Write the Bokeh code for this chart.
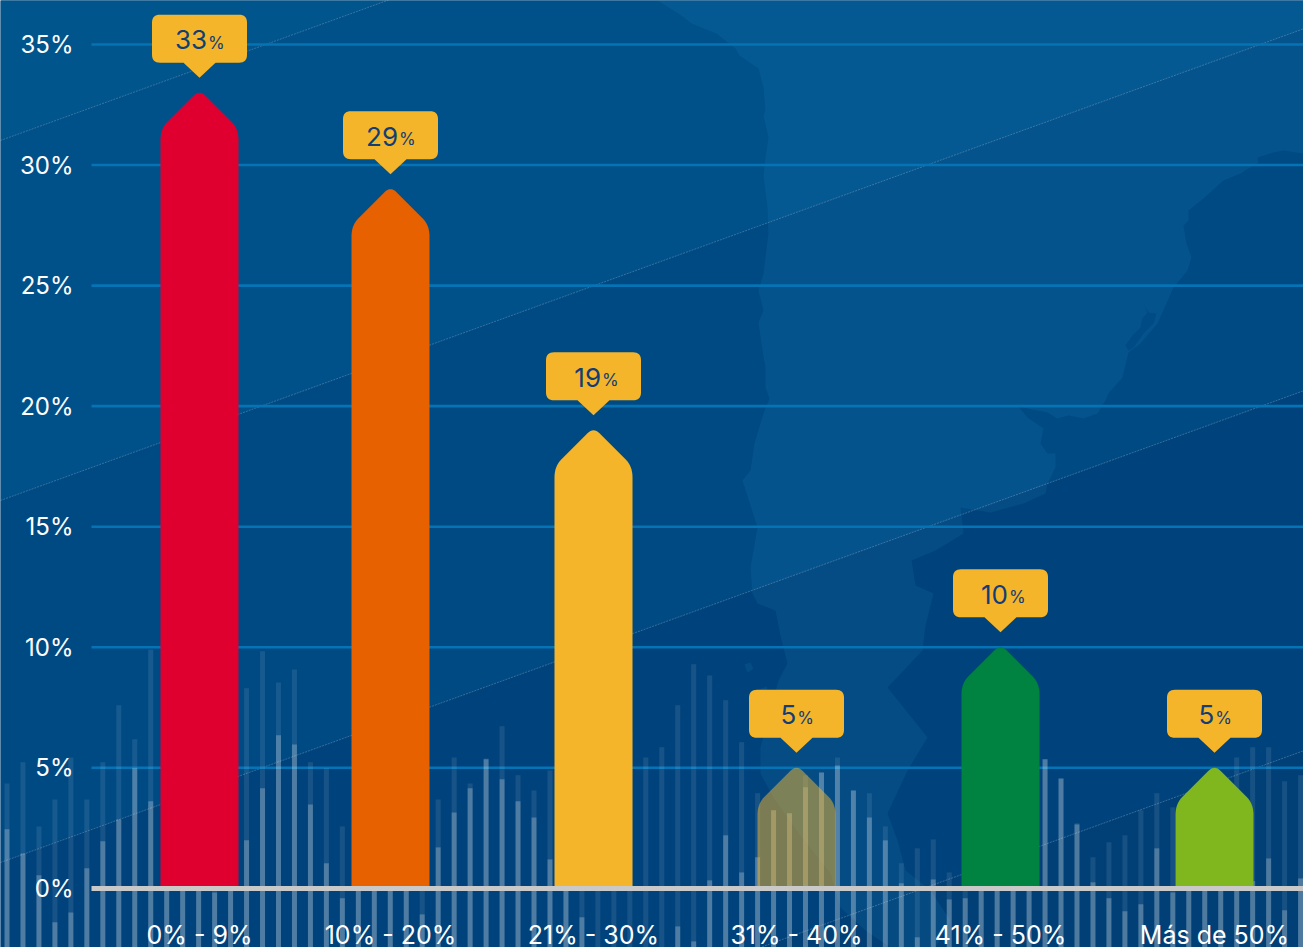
from bokeh.core.properties import value
from bokeh.embed import file_html
from bokeh.models import FixedTicker, LinearAxis, Range1d
from bokeh.plotting import figure
from bokeh.resources import INLINE

# Share of respondents per range
categories = ["0% - 9%", "10% - 20%", "21% - 30%", "31% - 40%", "41% - 50%", "Más de 50%"]
shares = [33, 29, 19, 5, 10, 5]
bar_colors = ["#df0030", "#e86100", "#f5b52a", "#f5b52a", "#008241", "#80b61e"]
bar_alphas = [1, 1, 1, 0.5, 1, 1]
bar_centers = [199, 390, 593, 796, 1000, 1214]

y_ticks = [0, 5, 10, 15, 20, 25, 30, 35]
y_tick_labels = ["0%", "5%", "10%", "15%", "20%", "25%", "30%", "35%"]

# Decorative stripes behind the chart
stripes_tall = [
    4.35, 5.23, 2.57, 3.69, 5.43, 3.69, 5.23, 7.59, 6.18, 9.91,
    7.5, 6.0, 8.0, 6.5, 7.0, 8.30, 9.83, 8.54, 9.08, 5.23,
    4.98, 2.57, 6.0, 7.5, 5.5, 8.0, 6.5, 3.69, 5.43, 4.35,
    5.39, 6.72, 4.69, 4.06, 4.89, 6.0, 7.0, 5.0, 8.0, 6.5,
    5.43, 5.85, 7.59, 9.29, 8.83, 7.80, 6.06, 3.94, 3.24, 3.11,
    4.69, 4.81, 5.43, 4.06, 3.94, 2.57, 1.04, 1.66, 2.03, 0.66,
    3.0, 5.0, 4.0, 6.0, 2.5, 5.35, 4.56, 2.70, 1.29, 1.91,
    2.20, 3.24, 3.94, 3.36, 3.0, 3.5, 4.69, 5.43, 5.85, 5.85,
    4.44, 4.69,
]
stripes_short = [
    2.45, 1.45, 0.54, -1.41, -1.00, 0.83, 1.95, 2.86, 4.98, 3.61,
    0.3, 0.3, 0.3, -0.17, 0.3, 1.99, 4.15, 6.35, 5.97, 3.48,
    1.04, -0.41, 0.3, 0.3, 0.3, 0.3, -1.08, 1.70, 3.15, 4.15,
    5.35, 4.52, 3.61, 2.94, 1.20, 0.3, -1.20, -3, -3, -3,
    -3, -3, -1.58, -2.20, 0.33, 2.20, 0.66, 1.29, 3.24, 3.11,
    4.19, 4.81, 5.10, 4.06, 2.94, 1.99, 0.21, -2.03, 0.37, -0.46,
    -0.41, 0.3, 0.3, 0.3, 0.3, 5.35, 4.56, 2.65, 0.25, -0.41,
    -0.95, -0.66, 1.66, -0.17, 0.3, 0.3, 0.3, 0.3, 0.3, 1.24,
    -0.91, 0.41,
]

WIDTH, HEIGHT = 1303, 947
ZERO_PX = 887.85
PX_PER_UNIT = 24.11


def val(py):
    """Vertical page position in pixels -> percent on the y scale."""
    return (ZERO_PX - py) / PX_PER_UNIT


p = figure(
    width=WIDTH, height=HEIGHT, output_backend="svg", toolbar_location=None,
    x_axis_type=None, y_axis_type=None,
    x_range=Range1d(0, WIDTH), y_range=Range1d(val(HEIGHT), val(0)),
    min_border=0, outline_line_color=None, background_fill_color="#00447c",
    border_fill_color=None,
)

# Diagonal bands of the backdrop, each a little darker than the one above
SLOPE = 0.362
band_edges = [-500, 140, 500, 862, 1222, 1800]
band_colors = ["#00558c", "#00518a", "#004a84", "#00437c", "#004077"]
band_xs, band_ys = [], []
for a, b in zip(band_edges[:-1], band_edges[1:]):
    band_xs.append([0, WIDTH, WIDTH, 0])
    band_ys.append([val(a), val(a - SLOPE * WIDTH), val(b - SLOPE * WIDTH), val(b)])
p.patches(band_xs, band_ys, fill_color=band_colors, line_color=None, level="image")

# Silhouette of the southern cone
land = [
    (657, 0), (678, 13), (691, 23), (716, 33), (735, 48), (739, 55), (758, 68), (763, 87),
    (765, 110), (763, 115), (768, 137), (765, 157), (763, 175), (767, 207), (768, 233),
    (763, 273), (758, 290), (763, 310), (758, 322), (762, 350), (765, 367), (765, 387),
    (769, 398), (763, 413), (754, 443), (750, 470), (742, 480), (750, 505), (757, 527),
    (750, 567), (752, 593), (757, 603), (775, 610), (780, 635), (787, 663), (778, 680),
    (770, 710), (760, 747), (760, 773), (773, 797), (800, 835), (830, 873), (840, 907),
    (865, 930), (890, 947), (935, 947), (950, 920), (930, 890), (905, 870), (897, 840),
    (887, 813), (907, 770), (927, 737), (903, 707), (887, 687), (922, 650), (925, 625),
    (933, 593), (915, 585), (911, 560), (935, 550), (963, 533), (960, 507), (990, 512),
    (1023, 503), (1045, 493), (1047, 483), (1055, 467), (1055, 453), (1047, 453),
    (1040, 443), (1043, 428), (1027, 417), (1017, 405), (1027, 408), (1047, 412),
    (1057, 418), (1068, 415), (1083, 418), (1097, 413), (1105, 400), (1108, 393),
    (1122, 377), (1128, 352), (1140, 343), (1157, 323), (1173, 287), (1187, 270),
    (1191, 257), (1186, 243), (1183, 225), (1188, 220), (1188, 210), (1203, 198),
    (1223, 180), (1240, 173), (1248, 168), (1258, 162), (1257, 157), (1273, 152),
    (1283, 150), (1303, 153), (1303, 0),
]
isles = [
    [(744, 664), (750, 662), (753, 668), (747, 672)],
    [(757, 690), (766, 686), (769, 698), (761, 702)],
    [(750, 714), (756, 712), (758, 724), (752, 727)],
]
p.patches(
    [[q[0] for q in s] for s in [land] + isles],
    [[val(q[1]) for q in s] for s in [land] + isles],
    fill_color="#2a90d0", fill_alpha=0.12, line_color=None, level="image",
)
lagoon = [(1143, 303), (1148, 312), (1156, 313), (1153, 323), (1143, 333), (1133, 347),
          (1128, 350), (1125, 345), (1132, 335), (1140, 327), (1142, 318), (1147, 312)]
p.patch([q[0] for q in lagoon], [val(q[1]) for q in lagoon],
        fill_color="#004a85", line_color=None, level="image")

# Thin diagonal rules along the band edges
for edge in band_edges[1:-1]:
    p.line([0, WIDTH], [val(edge), val(edge - SLOPE * WIDTH)], line_color="#ffffff",
           line_alpha=0.22, line_width=1, line_dash="2 1", level="image")

# Horizontal rules at each tick
GRID_LEFT = 91
p.segment([GRID_LEFT] * len(y_ticks[1:]), y_ticks[1:], [WIDTH] * len(y_ticks[1:]), y_ticks[1:],
          line_color="#0673b5", line_width=2.6, level="underlay")

# Background stripes, a faint tall layer and a brighter short one
stripe_x = [6.5 + i * 15.97 for i in range(len(stripes_tall))]
floor = val(HEIGHT + 5)
p.vbar(stripe_x, width=5, top=stripes_tall, bottom=floor, fill_color="#ffffff",
       fill_alpha=0.09, line_color=None)
p.vbar(stripe_x, width=5, top=stripes_short, bottom=floor, fill_color="#ffffff",
       fill_alpha=0.24, line_color=None)


def curve(p0, ctrl, p1, n=8):
    pts = []
    for k in range(n + 1):
        t = k / n
        pts.append(((1 - t) ** 2 * p0[0] + 2 * t * (1 - t) * ctrl[0] + t ** 2 * p1[0],
                    (1 - t) ** 2 * p0[1] + 2 * t * (1 - t) * ctrl[1] + t ** 2 * p1[1]))
    return pts


# House-shaped columns rising from the baseline to their value
HALF = 39
house_xs, house_ys = [], []
for c, v in zip(bar_centers, shares):
    t = ZERO_PX - v * PX_PER_UNIT
    pts = [(c - HALF, ZERO_PX)]
    pts += curve((c - HALF, t + 47), (c - HALF, t + 36), (c - 32, t + 29))
    pts += curve((c - 6, t + 3), (c, t - 3), (c + 6, t + 3))
    pts += curve((c + 32, t + 29), (c + HALF, t + 36), (c + HALF, t + 47))
    pts += [(c + HALF, ZERO_PX)]
    house_xs.append([q[0] for q in pts])
    house_ys.append([val(q[1]) for q in pts])
p.patches(house_xs, house_ys, fill_color=bar_colors, fill_alpha=bar_alphas, line_color=None)

# Value callouts floating above each column
GAP, TAIL, BOX_H, BOX_HALF, TAIL_HALF, R = 15, 15, 48, 47.5, 16, 8
call_xs, call_ys = [], []
for c, v in zip(bar_centers, shares):
    tip = ZERO_PX - v * PX_PER_UNIT - GAP
    b = tip - TAIL
    u = b - BOX_H
    l, r = c - BOX_HALF, c + BOX_HALF
    pts = [(c, tip), (c - TAIL_HALF, b)]
    pts += curve((l + R, b), (l, b), (l, b - R))
    pts += curve((l, u + R), (l, u), (l + R, u))
    pts += curve((r - R, u), (r, u), (r, u + R))
    pts += curve((r, b - R), (r, b), (r - R, b))
    pts += [(c + TAIL_HALF, b)]
    call_xs.append([q[0] for q in pts])
    call_ys.append([val(q[1]) for q in pts])
p.patches(call_xs, call_ys, fill_color="#f5b52a", line_color=None)

splits = [c + (15.5 * len(str(v)) - 16) / 2 for c, v in zip(bar_centers, shares)]
p.text(splits, shares, text=[str(v) for v in shares], text_font=value("Inter"),
       text_font_size="26px", text_color="#113e75", text_align="right",
       text_baseline="alphabetic", y_offset=-53)
p.text(splits, shares, text=["%"] * len(shares), text_font=value("Inter"),
       text_font_size="17px", text_color="#113e75", text_align="left",
       text_baseline="alphabetic", y_offset=-50, x_offset=1)

# Axes drawn inside the frame so the backdrop reaches the page edges
y_axis = LinearAxis(
    fixed_location=82, ticker=FixedTicker(ticks=y_ticks),
    major_label_overrides=dict(zip(y_ticks, y_tick_labels)),
    axis_line_color=None, major_tick_line_color=None, minor_tick_line_color=None,
    major_label_text_color="#ffffff", major_label_text_font="Inter",
    major_label_text_font_size="24px", major_label_standoff=3,
)
p.add_layout(y_axis, "left")

x_axis = LinearAxis(
    fixed_location=0, ticker=FixedTicker(ticks=bar_centers), bounds=(GRID_LEFT, WIDTH),
    major_label_overrides=dict(zip(bar_centers, categories)),
    axis_line_color="#c9c9c9", axis_line_width=5,
    major_tick_line_color=None, minor_tick_line_color=None,
    major_label_text_color="#ffffff", major_label_text_font="Inter",
    major_label_text_font_size="25px", major_label_standoff=26,
)
p.add_layout(x_axis, "below")

open("out.html", "w").write(file_html(p, INLINE))
